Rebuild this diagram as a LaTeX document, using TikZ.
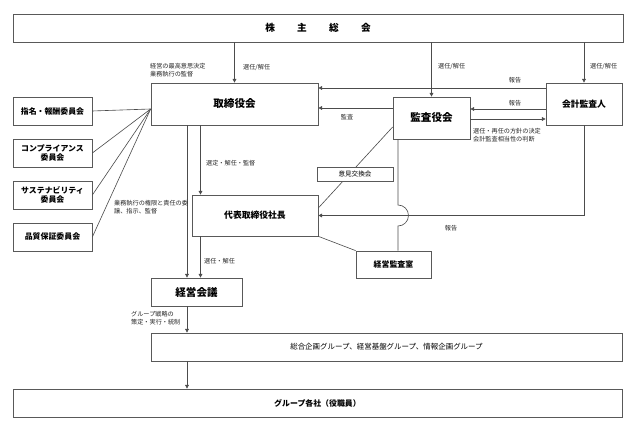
\documentclass[tikz,border=0pt]{standalone}
\usepackage{fontspec}
\setmainfont{Noto Sans CJK JP}
\usetikzlibrary{arrows.meta}

\begin{document}
\begin{tikzpicture}[
      font=\fontsize{7}{9}\selectfont,
      >={Triangle[length=1.5mm,width=1.5mm]},
      line/.style={draw=black!70, line width=0.7pt},
      arrow/.style={line, ->},
      box/.style={draw=black!65, line width=0.8pt, fill=white, inner sep=0pt, align=center},
      bigtitle/.style={font=\bfseries\fontsize{12}{14}\selectfont},
      midtitle/.style={font=\bfseries\fontsize{10}{12}\selectfont},
      smalltitle/.style={font=\bfseries\fontsize{9}{11}\selectfont},
      note/.style={font=\fontsize{7}{9}\selectfont, inner sep=0pt, align=left, text=black!85}
    ]

    \path[use as bounding box] (0,0) rectangle (25.36,17.24);

    % General meeting
    \node[box, minimum width=24.4cm, minimum height=1.12cm, font=\bfseries\fontsize{11}{13}\selectfont]
      (gm) at (12.72,16.12) {株\hspace{2.3em}主\hspace{2.3em}総\hspace{2.3em}会};

    % Board and committees
    \node[box, bigtitle, minimum width=6.68cm, minimum height=1.68cm] (board) at (9.38,13.08) {取締役会};

    \node[box, smalltitle, minimum width=3.16cm, minimum height=1.12cm] (nomination) at (2.1,12.8) {指名・報酬委員会};
    \node[box, smalltitle, minimum width=3.16cm, minimum height=1.12cm] (compliance) at (2.1,11.12) {コンプライアンス\\委員会};
    \node[box, smalltitle, minimum width=3.16cm, minimum height=1.12cm] (sustain) at (2.1,9.44) {サステナビリティ\\委員会};
    \node[box, smalltitle, minimum width=3.16cm, minimum height=1.12cm] (quality) at (2.1,7.76) {品質保証委員会};

    % Auditors
    \node[box, bigtitle, minimum width=3.08cm, minimum height=1.68cm] (kansa) at (17.26,12.52) {監査役会};
    \node[box, midtitle, minimum width=3.04cm, minimum height=1.68cm] (acct) at (23.36,13.08) {会計監査人};

    % Execution
    \node[box, midtitle, minimum width=5.04cm, minimum height=1.64cm] (ceo) at (10.2,8.62) {代表取締役社長};
    \node[box, bigtitle, minimum width=3.64cm, minimum height=1.12cm] (mgmt) at (7.86,5.56) {経営会議};
    \node[box, smalltitle, minimum width=3.0cm, minimum height=1.08cm] (office) at (15.74,6.66) {経営監査室};

    \node[box, font=\fontsize{8.5}{10}\selectfont, minimum width=18.84cm, minimum height=1.12cm]
      (groups) at (15.46,3.36) {総合企画グループ、経営基盤グループ、情報企画グループ};
    \node[box, smalltitle, minimum width=24.36cm, minimum height=1.12cm]
      (companies) at (12.7,1.12) {グループ各社（役職員）};

    % Election arrows
    \draw[arrow] (gm.south -| board.north) -- (board.north);
    \draw[arrow] (gm.south -| kansa.north) -- (kansa.north);
    \draw[arrow] (gm.south -| acct.north) -- (acct.north);
    \node[note, anchor=north west] at (6.0,14.72) {経営の最高意思決定\\業務執行の監督};
    \node[note, anchor=west] at (9.72,14.56) {選任/解任};
    \node[note, anchor=west] at (17.52,14.6) {選任/解任};
    \node[note, anchor=west] at (23.6,14.6) {選任/解任};

    % Committees to board
    \coordinate (fan) at (board.west |- 0,12.88);
    \foreach \c in {nomination,compliance,sustain,quality}
      \draw[line] (\c.east) -- (fan);

    % Reports and audit
    \draw[arrow] (acct.west |- 0,13.72) -- (board.east |- 0,13.72);
    \node[note] at (20.6,14.04) {報告};
    \draw[arrow] (kansa.west |- 0,12.92) -- (board.east |- 0,12.92);
    \node[note] at (13.88,12.56) {監査};
    \draw[arrow] (acct.west |- 0,12.88) -- (kansa.east |- 0,12.88);
    \node[note] at (20.6,13.12) {報告};
    \draw[arrow] (kansa.east |- 0,12.48) -- (acct.west |- 0,12.48);
    \node[note, anchor=north west] at (18.92,12.12) {選任・再任の方針の決定\\会計監査相当性の判断};

    % Board to execution
    \draw[arrow] (8.02,0 |- board.south) -- (8.02,0 |- ceo.north);
    \node[note, anchor=west] at (8.24,10.72) {選定・解任・監督};
    \draw[arrow] (7.48,0 |- board.south) -- (7.48,0 |- mgmt.north);
    \node[note, anchor=north west] at (4.56,9.24) {業務執行の権限と責任の委\\譲、指示、監督};
    \draw[arrow] (8.02,0 |- ceo.south) -- (8.02,0 |- mgmt.north);
    \node[note, anchor=west] at (8.16,6.8) {選任・解任};
    \draw[arrow] (7.48,0 |- mgmt.south) -- (7.48,0 |- groups.north);
    \node[note, anchor=north west] at (5.24,4.8) {グループ戦略の\\策定・実行・統制};
    \draw[arrow] (7.48,0 |- groups.south) -- (7.48,0 |- companies.north);

    % Exchange of opinions
    \draw[line] (kansa.west |- 0,12.16) -- (ceo.east |- 0,8.92);
    \node[box, font=\fontsize{7.5}{9}\selectfont, minimum width=3.04cm, minimum height=0.56cm]
      (exchange) at (14.2,10.28) {意見交換会};

    % Internal audit office
    \draw[line] (ceo.south east) -- (office.north west);
    \draw[line] (15.92,0 |- kansa.south) -- (15.92,9.04)
      arc[start angle=90, end angle=-90, radius=0.42] -- (15.92,0 |- office.north);
    \draw[arrow] (acct.south) |- (ceo.east);
    \node[note] at (18.04,8.12) {報告};

  \end{tikzpicture}
\end{document}
